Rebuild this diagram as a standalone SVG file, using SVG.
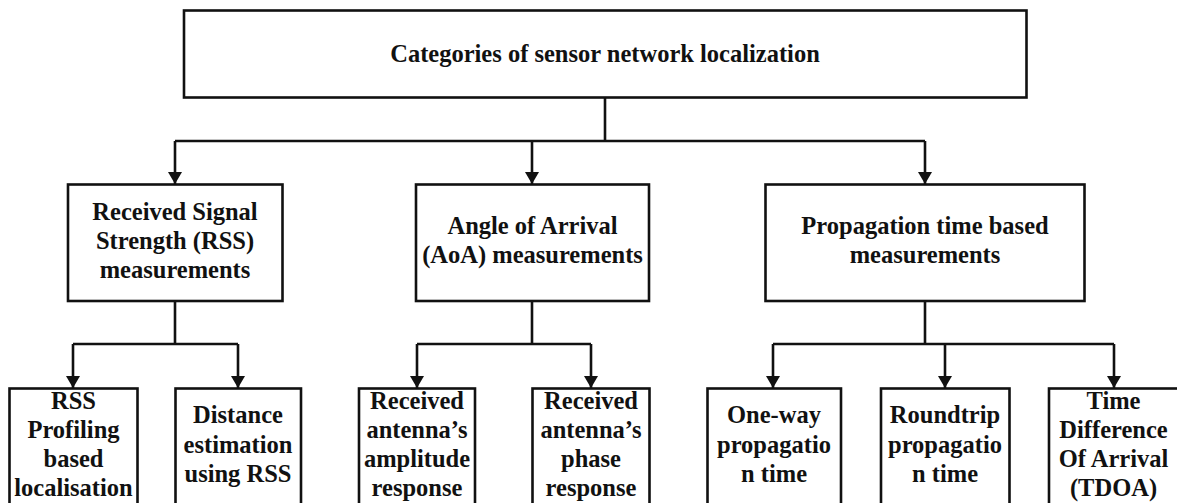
<svg xmlns="http://www.w3.org/2000/svg" width="1177" height="503" viewBox="0 0 1177 503">
<style>
.box{fill:#fff;stroke:#111;stroke-width:2.6}
.ln{fill:none;stroke:#111;stroke-width:2.6}
.arr{marker-end:url(#ah)}
text{font-family:'Liberation Serif','Times New Roman',Tinos,'DejaVu Serif',serif;font-weight:bold;font-size:24.5px;fill:#111;text-anchor:middle}
</style>
<defs>
<marker id="ah" viewBox="0 0 12 14" refX="12" refY="7" markerWidth="12" markerHeight="14" markerUnits="userSpaceOnUse" orient="auto">
<path d="M0,0 L12,7 L0,14 z" fill="#111"/>
</marker>
</defs>
<rect width="1177" height="503" fill="#fff"/>
<g id="connectors">
<path class="ln" d="M605,98 V141 M175,141 H925 M175,301 V344 M73,344 H238 M532,301 V344 M417,344 H591 M925,301 V344 M773,344 H1114"/>
<path class="ln arr" d="M175,141 V184"/>
<path class="ln arr" d="M532,141 V184"/>
<path class="ln arr" d="M925,141 V184"/>
<path class="ln arr" d="M73,344 V388"/>
<path class="ln arr" d="M238,344 V388"/>
<path class="ln arr" d="M417,344 V388"/>
<path class="ln arr" d="M591,344 V388"/>
<path class="ln arr" d="M773,344 V388"/>
<path class="ln arr" d="M945,344 V388"/>
<path class="ln arr" d="M1114,344 V388"/>
</g>
<g id="root">
<rect class="box" x="184" y="10.5" width="842.5" height="87"/>
<text x="605" y="62">Categories of sensor network localization</text>
</g>
<g id="rss">
<rect class="box" x="68" y="184.5" width="214.5" height="116.5"/>
<text x="175" y="220">Received Signal</text>
<text x="175" y="249">Strength (RSS)</text>
<text x="175" y="278">measurements</text>
</g>
<g id="aoa">
<rect class="box" x="416" y="184.5" width="233" height="116.5"/>
<text x="532.5" y="234">Angle of Arrival</text>
<text x="532.5" y="263">(AoA) measurements</text>
</g>
<g id="prop">
<rect class="box" x="765.5" y="184.5" width="319" height="116.5"/>
<text x="925" y="234">Propagation time based</text>
<text x="925" y="263">measurements</text>
</g>
<g id="rss-profiling">
<rect class="box" x="9.5" y="388.5" width="128" height="130"/>
<text x="73.5" y="409">RSS</text>
<text x="73.5" y="438">Profiling</text>
<text x="73.5" y="467">based</text>
<text x="73.5" y="496">localisation</text>
</g>
<g id="distance">
<rect class="box" x="175.5" y="388.5" width="125.5" height="130"/>
<text x="238" y="423">Distance</text>
<text x="238" y="452.5">estimation</text>
<text x="238" y="481.5">using RSS</text>
</g>
<g id="amplitude">
<rect class="box" x="359" y="388.5" width="116" height="130"/>
<text x="417" y="409">Received</text>
<text x="417" y="438">antenna’s</text>
<text x="417" y="467">amplitude</text>
<text x="417" y="496">response</text>
</g>
<g id="phase">
<rect class="box" x="532.5" y="388.5" width="117" height="130"/>
<text x="591" y="409">Received</text>
<text x="591" y="438">antenna’s</text>
<text x="591" y="467">phase</text>
<text x="591" y="496">response</text>
</g>
<g id="oneway">
<rect class="box" x="707.5" y="388.5" width="133.5" height="130"/>
<text x="774" y="423">One-way</text>
<text x="774" y="452.5">propagatio</text>
<text x="774" y="481.5">n time</text>
</g>
<g id="roundtrip">
<rect class="box" x="881" y="388.5" width="128.5" height="130"/>
<text x="945" y="423">Roundtrip</text>
<text x="945" y="452.5">propagatio</text>
<text x="945" y="481.5">n time</text>
</g>
<g id="tdoa">
<rect class="box" x="1049" y="388.5" width="130" height="130"/>
<text x="1113.5" y="409">Time</text>
<text x="1113.5" y="438">Difference</text>
<text x="1113.5" y="467">Of Arrival</text>
<text x="1113.5" y="496">(TDOA)</text>
</g>
</svg>
